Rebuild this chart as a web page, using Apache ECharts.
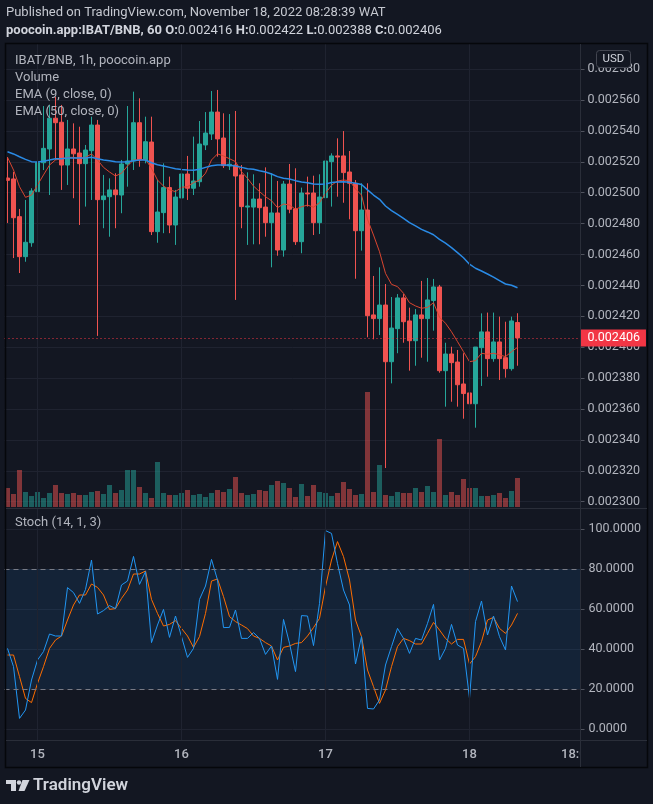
<!DOCTYPE html>
<html><head><meta charset="utf-8">
<script src="https://cdn.jsdelivr.net/npm/echarts/dist/echarts.min.js"></script>
<style>html,body{margin:0;padding:0;background:#131722;}#c{width:653px;height:804px;}</style>
</head><body><div id="c"></div>
<script>
// Prices are in millionths of BNB (2560 = 0.002560)
const START_DAY = 14, START_HOUR = 19, SLOTS = 96;
const categories = [];
for (let i = 0; i < SLOTS; i++) {
  const h = START_HOUR + i, d = START_DAY + Math.floor(h / 24), hh = h % 24;
  categories.push('2022-11-' + d + ' ' + String(hh).padStart(2, '0') + ':00');
}
const open = [2509.5,2508.9,2484.5,2458.6,2467.6,2500.7,2519.4,2528.3,2548.2,2545.6,
2517.9,2528.3,2525.7,2518.8,2527.2,2543.8,2495.5,2497.4,2501.8,2498.5,
2518.6,2520.5,2545.3,2521.2,2532.8,2474.8,2487.1,2503.3,2479.1,2496.6,
2512.1,2502.9,2507.1,2530.9,2538.0,2552.2,2535.4,2517.3,2517.9,2511.5,
2490.7,2490.7,2495.9,2490.7,2480.6,2486.9,2462.9,2505.6,2489.5,2468.3,
2499.8,2499.8,2480.6,2496.8,2520.1,2523.8,2523.8,2513.4,2506.1,2475.4,
2488.8,2420.9,2418.5,2427.3,2390.6,2412.0,2431.9,2417.0,2404.2,2420.9,
2418.5,2430.2,2439.0,2384.8,2395.6,2390.4,2376.2,2370.4,2363.4,2399.7,
2409.9,2392.6,2403.4,2393.2,2386.1,2416.0];
const high = [2523.1,2513.4,2489.5,2495.3,2502.9,2536.3,2556.1,2556.8,2562.0,2556.8,
2547.1,2544.9,2542.7,2530.9,2549.2,2547.1,2511.5,2509.3,2512.6,2521.2,
2556.1,2565.4,2561.1,2549.2,2549.2,2508.2,2519.0,2510.4,2501.8,2525.5,
2523.8,2536.3,2546.4,2552.2,2565.8,2566.5,2551.4,2550.9,2552.9,2517.9,
2513.2,2511.9,2506.1,2516.4,2512.6,2507.6,2507.6,2518.6,2515.8,2503.3,
2510.4,2511.0,2511.9,2525.5,2525.5,2535.2,2539.9,2527.0,2508.2,2506.1,
2506.1,2446.1,2451.7,2440.9,2432.5,2434.4,2434.4,2425.6,2424.7,2442.9,
2444.8,2444.2,2440.3,2402.9,2400.3,2398.2,2396.1,2384.8,2400.1,2421.9,
2422.4,2422.4,2419.8,2416.5,2419.8,2422.0];
const low = [2480.4,2457.7,2448.0,2455.3,2465.0,2475.2,2514.7,2498.5,2521.2,2501.8,
2505.0,2496.4,2479.1,2491.0,2495.3,2407.3,2477.0,2471.5,2477.0,2486.7,
2503.9,2514.7,2516.8,2519.0,2472.6,2467.6,2473.8,2473.8,2466.2,2483.4,
2495.3,2498.5,2503.9,2527.6,2534.1,2523.3,2516.0,2514.7,2430.6,2477.0,
2466.2,2466.6,2466.6,2471.5,2451.7,2459.2,2458.6,2486.7,2466.2,2460.8,
2491.0,2472.6,2473.3,2484.5,2491.0,2497.4,2493.5,2482.8,2444.3,2462.5,
2406.4,2405.1,2407.9,2321.8,2376.6,2396.1,2402.9,2384.8,2388.0,2393.2,
2390.6,2410.7,2383.5,2361.5,2364.7,2361.5,2353.7,2349.2,2347.9,2374.9,
2380.9,2390.6,2378.8,2380.3,2384.8,2388.0];
const close = [2508.0,2483.8,2458.6,2467.9,2501.1,2519.4,2528.7,2548.2,2545.3,2517.9,
2528.3,2525.2,2518.8,2527.6,2543.8,2495.5,2497.9,2501.8,2498.7,2518.6,
2520.5,2545.3,2521.2,2533.0,2474.8,2487.5,2503.3,2479.1,2497.2,2512.1,
2502.9,2507.6,2531.5,2538.6,2552.2,2534.8,2517.5,2518.4,2510.8,2491.0,
2491.4,2495.9,2490.3,2480.6,2486.9,2462.9,2505.6,2489.3,2468.3,2499.8,
2499.2,2480.6,2497.2,2520.5,2523.8,2523.1,2513.0,2506.1,2475.4,2488.8,
2420.4,2418.5,2427.3,2390.6,2412.4,2431.9,2416.5,2404.2,2420.9,2418.5,
2430.6,2439.0,2384.8,2395.6,2390.0,2375.7,2370.0,2363.4,2400.1,2409.9,
2392.6,2403.4,2392.6,2386.1,2417.0,2406.0];
const volume = [19,13,37,15,11,15,9,14,22,14,
13,14,12,12,15,16,13,22,14,17,
37,37,20,14,9,45,14,12,12,14,
17,12,13,10,14,17,15,18,30,14,
12,13,17,16,22,26,24,19,10,23,
11,22,15,14,11,14,25,18,12,13,
115,15,42,12,11,15,14,14,19,15,
21,15,68,12,15,12,28,19,19,11,
11,12,14,9,16,29];
const ema9 = [2522.9,2514.7,2503.9,2497.0,2498.5,2505.0,2511.5,2517.9,2521.2,2522.0,
2522.9,2522.9,2522.0,2522.9,2525.1,2521.2,2516.4,2513.4,2510.8,2512.6,
2517.3,2521.2,2521.2,2521.6,2515.8,2508.2,2504.3,2501.8,2500.7,2503.5,
2503.9,2506.5,2508.2,2512.6,2521.2,2525.1,2523.8,2522.0,2520.1,2513.6,
2509.3,2504.3,2500.7,2497.4,2494.8,2490.3,2492.7,2492.0,2489.3,2490.9,
2492.0,2490.6,2493.5,2499.6,2504.8,2507.6,2508.2,2507.8,2502.4,2498.5,
2482.8,2472.6,2461.8,2447.8,2440.7,2439.2,2434.9,2428.8,2426.7,2425.2,
2425.8,2428.8,2419.4,2415.5,2410.0,2403.6,2397.1,2390.6,2391.3,2396.1,
2395.4,2396.1,2395.0,2393.9,2397.1,2399.9];
const ema50 = [2526.5,2525.1,2523.3,2521.6,2520.1,2519.9,2520.3,2521.2,2522.0,2522.0,
2522.5,2522.5,2522.5,2522.5,2522.9,2522.0,2521.2,2520.7,2520.1,2519.9,
2520.1,2520.7,2521.2,2521.2,2519.4,2518.1,2517.3,2516.4,2515.5,2515.0,
2514.7,2514.5,2515.2,2516.4,2517.5,2517.9,2517.9,2517.7,2517.3,2516.4,
2515.5,2515.2,2514.2,2513.4,2512.1,2510.4,2509.3,2508.9,2507.8,2506.9,
2506.5,2505.6,2505.4,2505.6,2506.6,2506.9,2507.1,2506.7,2506.1,2505.3,
2501.8,2498.5,2495.7,2491.4,2488.4,2486.0,2483.4,2480.6,2478.5,2476.3,
2474.6,2472.8,2469.8,2467.3,2464.4,2461.2,2457.9,2453.7,2451.1,2449.3,
2447.4,2445.3,2443.1,2440.9,2440.1,2438.5];
const stochK = [40.3,31.2,5.3,9.5,24.5,34.5,38.7,47.5,46.5,46.5,
70.7,68.2,62.8,69.8,84.5,57.5,59.2,61.7,60.2,72.0,
74.0,86.3,72.3,78.7,43.2,52.0,59.8,45.8,56.5,46.2,
35.8,40.3,64.8,71.5,84.8,74.5,50.7,50.8,59.5,45.3,
45.3,48.2,45.3,37.3,41.5,24.8,54.8,42.8,28.7,56.7,
56.5,41.7,62.8,99.2,97.8,82.8,69.5,62.0,32.5,46.2,
10.3,10.0,14.5,32.0,41.2,50.3,45.3,37.8,45.3,44.5,
52.8,62.3,34.5,40.3,52.3,42.0,40.3,15.3,53.7,64.0,
47.0,56.5,46.2,39.5,71.5,63.7];
const stochD = [37.0,37.0,26.2,15.3,13.2,22.8,31.2,40.3,44.5,46.5,
54.5,62.0,67.0,67.0,72.5,70.8,67.0,59.8,60.2,65.3,
69.5,77.5,77.5,79.0,64.8,57.8,51.5,52.3,54.2,50.3,
46.5,40.8,46.2,57.8,74.0,75.0,66.2,56.2,53.7,52.0,
50.2,46.5,45.3,43.2,41.5,34.5,40.8,41.5,42.8,43.2,
46.5,50.7,55.3,71.2,84.5,93.7,86.2,74.5,54.5,46.2,
29.5,21.2,12.8,19.5,31.2,41.2,45.3,44.2,42.5,42.5,
47.8,53.3,49.5,45.3,42.5,44.8,44.8,32.5,36.2,43.7,
54.5,55.8,50.3,47.8,52.0,57.8];
const priceTicks = {min: 2300, max: 2580, step: 20};
const stochTicks = {min: 0, max: 100, step: 20};

const FONT = 'Roboto, "Noto Sans", sans-serif';
const BG = '#131722', GRIDC = '#1f2330', TXT = '#b2b5be';
const UP = '#26a69a', DOWN = '#ef5350';
const fmtP = v => (v / 1e6).toFixed(6);
const hourOf = s => s.slice(11);
const dayOf = s => String(parseInt(s.slice(8, 10), 10));
const dayLines = categories.filter(c => hourOf(c) === '00:00').map(c => ({xAxis: c}));
const showLabel = c => hourOf(c) === '00:00' || c === '2022-11-18 18:00';

const chart = echarts.init(document.getElementById('c'), null, {renderer: 'canvas'});
const gridBase = {left: 4.5, width: 576, outerBoundsMode: 'none'};
const hiddenX = i => ({type: 'category', gridIndex: i, data: categories, boundaryGap: true, show: false});
const vline = {silent: true, symbol: ['none', 'none'], animation: false, label: {show: false},
  lineStyle: {color: GRIDC, type: 'solid', width: 1}, data: dayLines};

chart.setOption({
  backgroundColor: BG,
  animation: false,
  grid: [
    Object.assign({top: 69.1, height: 432.6}, gridBase),
    Object.assign({top: 44, height: 463}, gridBase),
    Object.assign({top: 529, height: 200}, gridBase),
    Object.assign({top: 508, height: 232}, gridBase)
  ],
  xAxis: [hiddenX(0), hiddenX(1), hiddenX(2), {
    type: 'category', gridIndex: 3, data: categories, boundaryGap: true, position: 'bottom',
    axisLine: {show: false}, axisTick: {show: false}, splitLine: {show: false},
    axisLabel: {interval: (i, c) => showLabel(c), formatter: c => hourOf(c) === '00:00' ? dayOf(c) : hourOf(c),
      color: TXT, fontSize: 13, fontWeight: 500, fontFamily: FONT, margin: 8, hideOverlap: false}
  }],
  yAxis: [
    {type: 'value', gridIndex: 0, position: 'right', min: priceTicks.min, max: priceTicks.max, interval: priceTicks.step,
      axisLine: {show: false}, axisTick: {show: true, length: 4, lineStyle: {color: '#50535e'}},
      axisLabel: {formatter: fmtP, color: TXT, fontSize: 12.5, fontFamily: FONT, margin: 7},
      splitLine: {show: true, lineStyle: {color: GRIDC, width: 1}}},
    {type: 'value', gridIndex: 1, min: 0, max: v => v.max * 463 / 115, show: false, splitLine: {show: false}},
    {type: 'value', gridIndex: 2, position: 'right', min: stochTicks.min, max: stochTicks.max, interval: stochTicks.step,
      axisLine: {show: false}, axisTick: {show: true, length: 4, lineStyle: {color: '#50535e'}},
      axisLabel: {formatter: v => v.toFixed(4), color: TXT, fontSize: 12.5, fontFamily: FONT, margin: 8},
      splitLine: {show: true, lineStyle: {color: GRIDC, width: 1}}},
    {type: 'value', gridIndex: 3, min: 0, max: 1, show: false, splitLine: {show: false}}
  ],
  series: [
    {type: 'line', xAxisIndex: 1, yAxisIndex: 1, data: [], z: 0, silent: true, markLine: vline},
    {type: 'line', xAxisIndex: 3, yAxisIndex: 3, data: [], z: 0, silent: true, markLine: vline},
    {type: 'bar', name: 'Volume', xAxisIndex: 1, yAxisIndex: 1, barWidth: 5, z: 1, silent: true,
      data: volume.map((v, i) => ({value: v, itemStyle: {color: close[i] >= open[i] ? 'rgba(38,166,154,0.5)' : 'rgba(239,83,80,0.5)'}}))},
    {type: 'candlestick', name: 'IBAT/BNB', xAxisIndex: 0, yAxisIndex: 0, barWidth: 4, z: 2, silent: true,
      data: open.map((o, i) => [o, close[i], low[i], high[i]]),
      itemStyle: {color: UP, color0: DOWN, borderColor: UP, borderColor0: DOWN, borderWidth: 1},
      markLine: {silent: true, symbol: ['none', 'none'], animation: false,
        data: [{yAxis: close[close.length - 1]}],
        lineStyle: {color: '#f23645', type: [1, 3], width: 1},
        label: {show: true, position: 'end', distance: 0, formatter: p => fmtP(p.value), color: '#ffffff',
          backgroundColor: '#f23645', padding: [2, 6, 2, 7], fontSize: 12.5, fontFamily: FONT}}},
    {type: 'line', name: 'EMA 9', xAxisIndex: 0, yAxisIndex: 0, data: ema9, showSymbol: false, z: 3, silent: true,
      lineStyle: {color: '#d9452f', width: 1}},
    {type: 'line', name: 'EMA 50', xAxisIndex: 0, yAxisIndex: 0, data: ema50, showSymbol: false, z: 3, silent: true,
      lineStyle: {color: '#2a8be6', width: 1.5}},
    {type: 'line', name: '%D', xAxisIndex: 2, yAxisIndex: 2, data: stochD, showSymbol: false, z: 3, silent: true,
      lineStyle: {color: '#ff6d00', width: 1},
      markArea: {silent: true, itemStyle: {color: 'rgba(33,150,243,0.1)'}, data: [[{yAxis: 20}, {yAxis: 80}]]}},
    {type: 'line', name: '%K', xAxisIndex: 2, yAxisIndex: 2, data: stochK, showSymbol: false, z: 4, silent: true,
      lineStyle: {color: '#2196f3', width: 1},
      markLine: {silent: true, symbol: ['none', 'none'], animation: false, label: {show: false},
        lineStyle: {color: '#787b86', type: [5, 4], width: 1}, data: [{yAxis: 80}, {yAxis: 20}]}}
  ],
  graphic: [
    {type: 'text', x: 6, y: 13, z: 10, style: {text: 'Published on TradingView.com, November 18, 2022 08:28:39 WAT',
      fill: '#c5c8d0', font: '13px ' + FONT, verticalAlign: 'middle'}},
    {type: 'text', x: 6, y: 31, z: 10, style: {
      text: '{b|poocoin.app:IBAT/BNB, 60} {b|O:}{n|0.002416} {b|H:}{n|0.002422} {b|L:}{n|0.002388} {b|C:}{n|0.002406}',
      verticalAlign: 'middle',
      rich: {b: {fill: '#d1d4dc', font: 'bold 13px ' + FONT}, n: {fill: '#d1d4dc', font: '13px ' + FONT}}}},
    {type: 'rect', z: 20, shape: {x: 5.5, y: 43.5, width: 642, height: 724}, style: {fill: 'none', stroke: '#05070b', lineWidth: 1.5}},
    {type: 'line', z: 20, shape: {x1: 580.5, y1: 44, x2: 580.5, y2: 767}, style: {stroke: '#2a2e39', lineWidth: 1}},
    {type: 'line', z: 20, shape: {x1: 6, y1: 508.5, x2: 647, y2: 508.5}, style: {stroke: '#2a2e39', lineWidth: 1}},
    {type: 'line', z: 20, shape: {x1: 6, y1: 740.5, x2: 647, y2: 740.5}, style: {stroke: '#2a2e39', lineWidth: 1}},
    {type: 'rect', z: 19, shape: {x: 581, y: 741, width: 66, height: 26}, style: {fill: BG}},
    {type: 'text', x: 15, y: 61, z: 10, style: {text: 'IBAT/BNB, 1h, poocoin.app', fill: TXT, font: '13px ' + FONT, verticalAlign: 'middle'}},
    {type: 'text', x: 15, y: 78, z: 10, style: {text: 'Volume', fill: TXT, font: '13px ' + FONT, verticalAlign: 'middle'}},
    {type: 'text', x: 15, y: 95, z: 10, style: {text: 'EMA (9, close, 0)', fill: TXT, font: '13px ' + FONT, verticalAlign: 'middle'}},
    {type: 'text', x: 15, y: 112, z: 10, style: {text: 'EMA (50, close, 0)', fill: TXT, font: '13px ' + FONT, verticalAlign: 'middle'}},
    {type: 'text', x: 15, y: 523, z: 10, style: {text: 'Stoch (14, 1, 3)', fill: TXT, font: '13px ' + FONT, verticalAlign: 'middle'}},
    {type: 'rect', z: 21, shape: {x: 596.5, y: 50.5, width: 34, height: 17, r: 3}, style: {fill: BG, stroke: '#434651', lineWidth: 1}},
    {type: 'text', x: 613.5, y: 59, z: 22, style: {text: 'USD', fill: '#d1d4dc', font: '11.5px ' + FONT, align: 'center', verticalAlign: 'middle'}},
    {type: 'rect', z: 10, shape: {x: 6, y: 780, width: 10, height: 4}, style: {fill: '#d1d4dc'}},
    {type: 'rect', z: 10, shape: {x: 11, y: 780, width: 5, height: 11}, style: {fill: '#d1d4dc'}},
    {type: 'circle', z: 10, shape: {cx: 19, cy: 782.5, r: 2.2}, style: {fill: '#d1d4dc'}},
    {type: 'polygon', z: 10, shape: {points: [[22.5, 780], [29.5, 780], [24.5, 791], [18.5, 791]]}, style: {fill: '#d1d4dc'}},
    {type: 'text', x: 33, y: 785.5, z: 10, style: {text: 'TradingView', fill: '#d1d4dc', font: '600 17px ' + FONT, verticalAlign: 'middle'}}
  ]
});
</script></body></html>
